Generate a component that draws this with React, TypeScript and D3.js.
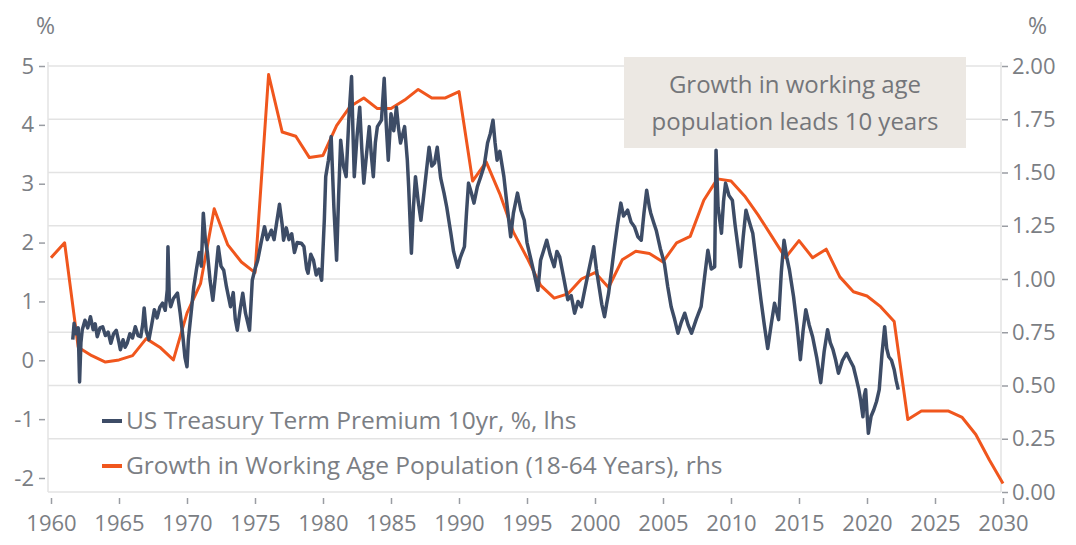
import React, { useRef, useEffect } from 'react';
import * as d3 from 'd3';

// Growth in working age population (already shifted 10 years forward), rhs
const popYears = [
  1960, 1961, 1962, 1963, 1964, 1965, 1966, 1967, 1968, 1969,
  1970, 1971, 1972, 1973, 1974, 1975, 1976, 1977, 1978, 1979,
  1980, 1981, 1982, 1983, 1984, 1985, 1986, 1987, 1988, 1989,
  1990, 1991, 1992, 1993, 1994, 1995, 1996, 1997, 1998, 1999,
  2000, 2001, 2002, 2003, 2004, 2005, 2006, 2007, 2008, 2009,
  2010, 2011, 2012, 2013, 2014, 2015, 2016, 2017, 2018, 2019,
  2020, 2021, 2022, 2023, 2024, 2025, 2026, 2027, 2028, 2029, 2030,
];
const popGrowth = [
  1.10, 1.17, 0.68, 0.64, 0.61, 0.62, 0.64, 0.72, 0.68, 0.62,
  0.84, 0.98, 1.33, 1.16, 1.08, 1.03, 1.96, 1.69, 1.67, 1.57,
  1.58, 1.72, 1.81, 1.85, 1.80, 1.80, 1.84, 1.89, 1.85, 1.85,
  1.88, 1.46, 1.55, 1.40, 1.22, 1.10, 0.97, 0.91, 0.93, 1.00,
  1.03, 0.96, 1.09, 1.13, 1.12, 1.08, 1.17, 1.20, 1.37, 1.47,
  1.46, 1.39, 1.30, 1.20, 1.10, 1.18, 1.10, 1.14, 1.01, 0.94,
  0.92, 0.87, 0.80, 0.34, 0.38, 0.38, 0.38, 0.35, 0.27, 0.15, 0.04,
];

// US Treasury term premium 10yr, % (lhs) — [decimal year, value]
const termPremium: [number, number][] = [
  [1961.6, 0.35], [1961.7, 0.63], [1961.85, 0.45], [1962.0, 0.55], [1962.1, -0.37],
  [1962.2, 0.30], [1962.3, 0.52], [1962.5, 0.68], [1962.7, 0.55], [1962.9, 0.74],
  [1963.1, 0.52], [1963.25, 0.62], [1963.4, 0.40], [1963.6, 0.55], [1963.8, 0.57],
  [1964.0, 0.42], [1964.2, 0.48], [1964.4, 0.29], [1964.6, 0.45], [1964.8, 0.51],
  [1965.0, 0.30], [1965.1, 0.18], [1965.3, 0.35], [1965.45, 0.22], [1965.6, 0.29],
  [1965.8, 0.45], [1966.0, 0.38], [1966.2, 0.57], [1966.4, 0.42], [1966.6, 0.40],
  [1966.75, 0.62], [1966.85, 0.89], [1967.0, 0.50], [1967.2, 0.35], [1967.4, 0.60],
  [1967.6, 0.86], [1967.8, 0.72], [1968.0, 0.90], [1968.2, 0.97], [1968.4, 0.85],
  [1968.55, 1.20], [1968.6, 1.93], [1968.7, 1.05], [1968.8, 0.91], [1969.0, 1.05],
  [1969.3, 1.14], [1969.5, 0.80], [1969.7, 0.40], [1969.85, 0.05], [1970.0, -0.11],
  [1970.1, 0.35], [1970.3, 0.80], [1970.5, 1.25], [1970.7, 1.55], [1970.9, 1.83],
  [1971.05, 1.60], [1971.2, 2.50], [1971.35, 2.05], [1971.5, 1.83], [1971.7, 1.35],
  [1971.9, 1.02], [1972.1, 1.45], [1972.3, 1.93], [1972.5, 1.60], [1972.7, 1.53],
  [1972.9, 1.25], [1973.2, 0.91], [1973.4, 1.15], [1973.55, 0.70], [1973.7, 0.51],
  [1973.9, 0.85], [1974.1, 1.14], [1974.3, 0.80], [1974.6, 0.51], [1974.8, 1.36],
  [1975.0, 1.55], [1975.2, 1.70], [1975.45, 2.00], [1975.7, 2.27], [1975.9, 2.05],
  [1976.2, 2.21], [1976.4, 2.05], [1976.6, 2.35], [1976.8, 2.65], [1977.0, 2.30],
  [1977.1, 2.04], [1977.3, 2.25], [1977.5, 2.05], [1977.7, 2.15], [1977.9, 1.83],
  [1978.1, 2.00], [1978.4, 1.99], [1978.6, 1.93], [1978.8, 1.55], [1978.9, 1.48],
  [1979.1, 1.80], [1979.3, 1.70], [1979.5, 1.45], [1979.7, 1.55], [1979.9, 1.36],
  [1980.1, 2.40], [1980.2, 3.12], [1980.4, 3.40], [1980.6, 3.80], [1980.8, 2.60],
  [1981.0, 1.70], [1981.15, 2.80], [1981.3, 3.74], [1981.5, 3.30], [1981.7, 3.12],
  [1981.9, 4.10], [1982.1, 4.82], [1982.2, 3.90], [1982.3, 3.12], [1982.5, 3.80],
  [1982.7, 4.30], [1982.85, 3.60], [1983.0, 3.01], [1983.2, 3.50], [1983.4, 3.97],
  [1983.55, 3.50], [1983.7, 3.12], [1983.85, 3.70], [1984.0, 3.97], [1984.3, 4.08],
  [1984.5, 4.79], [1984.65, 4.00], [1984.8, 3.40], [1985.0, 4.19], [1985.2, 3.90],
  [1985.4, 4.30], [1985.55, 3.95], [1985.7, 3.69], [1986.0, 3.97], [1986.2, 3.40],
  [1986.3, 2.94], [1986.5, 1.82], [1986.65, 2.60], [1986.8, 3.12], [1987.0, 2.70],
  [1987.2, 2.38], [1987.5, 3.00], [1987.8, 3.62], [1988.0, 3.30], [1988.2, 3.35],
  [1988.4, 3.62], [1988.65, 3.10], [1988.9, 2.84], [1989.1, 2.60], [1989.4, 2.16],
  [1989.6, 1.85], [1989.9, 1.58], [1990.1, 1.75], [1990.4, 1.93], [1990.55, 2.50],
  [1990.7, 3.01], [1990.9, 2.85], [1991.1, 2.67], [1991.35, 2.95], [1991.6, 3.12],
  [1991.85, 3.30], [1992.1, 3.69], [1992.3, 3.85], [1992.5, 4.08], [1992.65, 3.70],
  [1992.8, 3.40], [1993.0, 3.55], [1993.3, 3.12], [1993.55, 2.60], [1993.8, 2.10],
  [1994.0, 2.50], [1994.3, 2.84], [1994.55, 2.55], [1994.8, 2.38], [1995.0, 2.00],
  [1995.3, 1.70], [1995.55, 1.45], [1995.8, 1.19], [1996.0, 1.70], [1996.2, 1.85],
  [1996.45, 2.04], [1996.7, 1.80], [1997.0, 1.59], [1997.2, 1.85], [1997.4, 1.76],
  [1997.7, 1.40], [1998.0, 1.03], [1998.25, 1.10], [1998.5, 0.80], [1998.75, 1.00],
  [1999.0, 0.91], [1999.25, 1.20], [1999.5, 1.48], [1999.7, 1.70], [1999.9, 1.93],
  [2000.1, 1.55], [2000.3, 1.25], [2000.5, 0.95], [2000.7, 0.74], [2000.85, 0.95],
  [2001.0, 1.14], [2001.2, 1.50], [2001.4, 1.87], [2001.65, 2.30], [2001.9, 2.67],
  [2002.1, 2.45], [2002.4, 2.55], [2002.65, 2.35], [2002.9, 2.27], [2003.15, 2.10],
  [2003.4, 2.04], [2003.6, 2.50], [2003.8, 2.89], [2004.0, 2.60], [2004.1, 2.50],
  [2004.3, 2.35], [2004.5, 2.21], [2004.8, 1.90], [2005.1, 1.65], [2005.35, 1.25],
  [2005.6, 0.91], [2005.85, 0.70], [2006.1, 0.46], [2006.35, 0.65], [2006.6, 0.80],
  [2006.85, 0.60], [2007.1, 0.46], [2007.45, 0.70], [2007.8, 0.91], [2008.05, 1.40],
  [2008.3, 1.87], [2008.55, 1.55], [2008.8, 1.59], [2008.9, 3.57], [2009.05, 2.60],
  [2009.3, 2.16], [2009.45, 2.70], [2009.6, 3.01], [2009.85, 2.80], [2010.1, 2.72],
  [2010.3, 2.30], [2010.5, 1.95], [2010.7, 1.59], [2010.9, 2.10], [2011.1, 2.55],
  [2011.35, 2.35], [2011.6, 2.16], [2011.9, 1.60], [2012.2, 1.03], [2012.45, 0.60],
  [2012.7, 0.20], [2012.95, 0.60], [2013.2, 0.97], [2013.5, 0.69], [2013.7, 1.50],
  [2013.9, 2.04], [2014.1, 1.75], [2014.3, 1.53], [2014.6, 1.08], [2014.85, 0.60],
  [2015.1, 0.01], [2015.3, 0.50], [2015.5, 0.86], [2015.75, 0.60], [2016.0, 0.40],
  [2016.3, 0.05], [2016.6, -0.38], [2016.85, 0.15], [2017.1, 0.52], [2017.3, 0.30],
  [2017.5, 0.18], [2017.7, 0.00], [2017.9, -0.22], [2018.2, 0.00], [2018.5, 0.12],
  [2018.75, 0.00], [2019.0, -0.11], [2019.2, -0.30], [2019.4, -0.50], [2019.55, -0.70],
  [2019.7, -0.96], [2019.8, -0.60], [2019.9, -0.50], [2020.0, -0.90], [2020.1, -1.24],
  [2020.3, -0.95], [2020.5, -0.84], [2020.7, -0.70], [2020.9, -0.50], [2021.1, 0.10],
  [2021.3, 0.57], [2021.45, 0.20], [2021.6, 0.06], [2021.8, 0.00], [2022.0, -0.16],
  [2022.15, -0.35], [2022.3, -0.50],
];

const xTicks = d3.range(1960, 2031, 5);
const leftTicks = [-2, -1, 0, 1, 2, 3, 4, 5];
const rightTicks = [0, 0.25, 0.5, 0.75, 1, 1.25, 1.5, 1.75, 2];

const legendLabels = [
  'US Treasury Term Premium 10yr, %, lhs',
  'Growth in Working Age Population (18-64 Years), rhs',
];
const noteLines = ['Growth in working age', 'population leads 10 years'];

const NAVY = '#3d4c66';
const ORANGE = '#f0561d';
const TEXT = '#7b7e84';
const GRID = '#e3e3e3';
const FONT = '"Open Sans", "Noto Sans", sans-serif';

export default function App() {
  const svgRef = useRef<SVGSVGElement>(null);

  useEffect(() => {
    if (!svgRef.current) return;
    const svg = d3.select(svgRef.current);
    svg.selectAll('*').remove();

    const left = 48;
    const right = 1001;
    const top = 66;

    const x = d3.scaleLinear().domain([1960, 2030]).range([left + 3, right + 2]);
    const yL = d3.scaleLinear().domain([-2, 5]).range([478, top]);
    const yR = d3.scaleLinear().domain([0, 2]).range([492, top]);

    svg.append('rect').attr('width', 1076).attr('height', 545).attr('fill', '#fff');

    // gridlines follow the rhs ticks
    svg.append('g')
      .selectAll('line')
      .data(rightTicks)
      .join('line')
      .attr('x1', left)
      .attr('x2', right)
      .attr('y1', d => yR(d))
      .attr('y2', d => yR(d))
      .attr('stroke', GRID)
      .attr('stroke-width', 1.5);

    // axis frames
    svg.append('line')
      .attr('x1', left).attr('x2', left).attr('y1', top - 4).attr('y2', yR(0))
      .attr('stroke', GRID).attr('stroke-width', 1.5);
    svg.append('line')
      .attr('x1', right).attr('x2', right).attr('y1', top - 4).attr('y2', yR(0))
      .attr('stroke', GRID).attr('stroke-width', 1.5);

    // left axis (plain hyphen for negatives, as in the source)
    const gl = svg.append('g')
      .attr('transform', `translate(${left - 3},0)`)
      .call(d3.axisLeft(yL).tickValues(leftTicks).tickSize(6).tickPadding(5).tickFormat(d => String(d)));
    gl.select('.domain').remove();

    // right axis
    const gr = svg.append('g')
      .attr('transform', `translate(${right + 1},0)`)
      .call(d3.axisRight(yR).tickValues(rightTicks).tickSize(6).tickPadding(4).tickFormat(d3.format('.2f')));
    gr.select('.domain').remove();

    // bottom axis
    const gb = svg.append('g')
      .attr('transform', `translate(0,${yR(0) + 6})`)
      .call(d3.axisBottom(x).tickValues(xTicks).tickSize(6).tickPadding(11).tickFormat(d => String(d)));
    gb.select('.domain').remove();

    [gl, gr, gb].forEach(g => {
      g.selectAll('line').attr('stroke', '#9a9da3').attr('stroke-width', 1.5);
      g.selectAll('text')
        .attr('fill', TEXT)
        .attr('font-family', FONT)
        .attr('font-size', 22);
    });

    // unit labels
    svg.append('text').attr('x', 36).attr('y', 34).text('%')
      .attr('fill', TEXT).attr('font-family', FONT).attr('font-size', 23);
    svg.append('text').attr('x', 1028).attr('y', 34).text('%')
      .attr('fill', TEXT).attr('font-family', FONT).attr('font-size', 23);

    // annotation box
    svg.append('rect')
      .attr('x', 624).attr('y', 57).attr('width', 342).attr('height', 91)
      .attr('fill', '#ece8e3');
    noteLines.forEach((t, i) => {
      svg.append('text')
        .attr('x', 795).attr('y', 93 + i * 37)
        .attr('text-anchor', 'middle')
        .attr('fill', '#74767a')
        .attr('font-family', FONT)
        .attr('font-size', 24)
        .text(t);
    });

    // lines
    const popLine = d3.line<number>()
      .x((_, i) => x(popYears[i]))
      .y(d => yR(d));
    svg.append('path')
      .attr('d', popLine(popGrowth))
      .attr('fill', 'none')
      .attr('stroke', ORANGE)
      .attr('stroke-width', 3)
      .attr('stroke-linejoin', 'round');

    const tpLine = d3.line<[number, number]>()
      .x(d => x(d[0]))
      .y(d => yL(d[1]));
    svg.append('path')
      .attr('d', tpLine(termPremium))
      .attr('fill', 'none')
      .attr('stroke', NAVY)
      .attr('stroke-width', 3.5)
      .attr('stroke-linejoin', 'round');

    // legend
    const colors = [NAVY, ORANGE];
    legendLabels.forEach((label, i) => {
      const y = 421 + i * 45;
      svg.append('line')
        .attr('x1', 102).attr('x2', 122).attr('y1', y).attr('y2', y)
        .attr('stroke', colors[i]).attr('stroke-width', 4);
      svg.append('text')
        .attr('x', 126).attr('y', y + 8)
        .attr('fill', TEXT)
        .attr('font-family', FONT)
        .attr('font-size', 24.5)
        .text(label);
    });
  }, []);

  return (
    <div style={{ width: 1076, height: 545, margin: -8 }}>
      <svg ref={svgRef} width={1076} height={545} style={{ display: 'block' }} />
    </div>
  );
}
